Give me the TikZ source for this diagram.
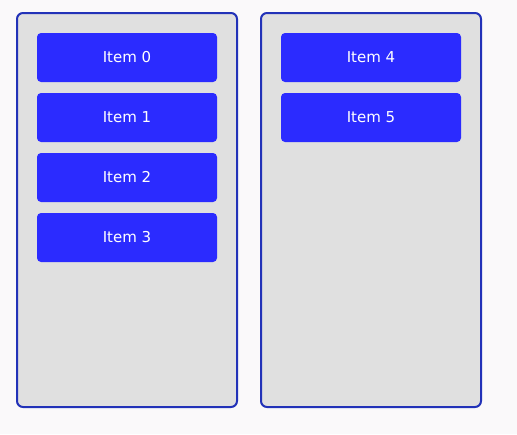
\documentclass[tikz,border=0pt]{standalone}
\usepackage{fontspec}
\setmainfont{DejaVu Sans}
\definecolor{pagebg}{HTML}{FAF9FA}
\definecolor{panelfill}{HTML}{E0E0E0}
\definecolor{paneldraw}{HTML}{2232B8}
\definecolor{itemfill}{HTML}{2B2BFF}
\begin{document}
\begin{tikzpicture}[x=1pt,y=-1pt,
  panel/.style={draw=paneldraw,fill=panelfill,line width=2pt,rounded corners=6pt},
  itembox/.style={fill=itemfill,rounded corners=4pt,minimum width=180pt,minimum height=49pt,
    inner sep=0pt,text=white,font=\fontsize{15}{17}\selectfont}]
\fill[pagebg] (0,0) rectangle (517,434);
\useasboundingbox (0,0) rectangle (517,434);
\draw[panel] (17,13) rectangle (237,407);
\draw[panel] (261,13) rectangle (481,407);
\node[itembox] (i0) at (127,57.5) {Item 0};
\node[itembox] (i1) at (127,117.5) {Item 1};
\node[itembox] (i2) at (127,177.5) {Item 2};
\node[itembox] (i3) at (127,237.5) {Item 3};
\node[itembox] (i4) at (371,57.5) {Item 4};
\node[itembox] (i5) at (371,117.5) {Item 5};
\end{tikzpicture}
\end{document}
